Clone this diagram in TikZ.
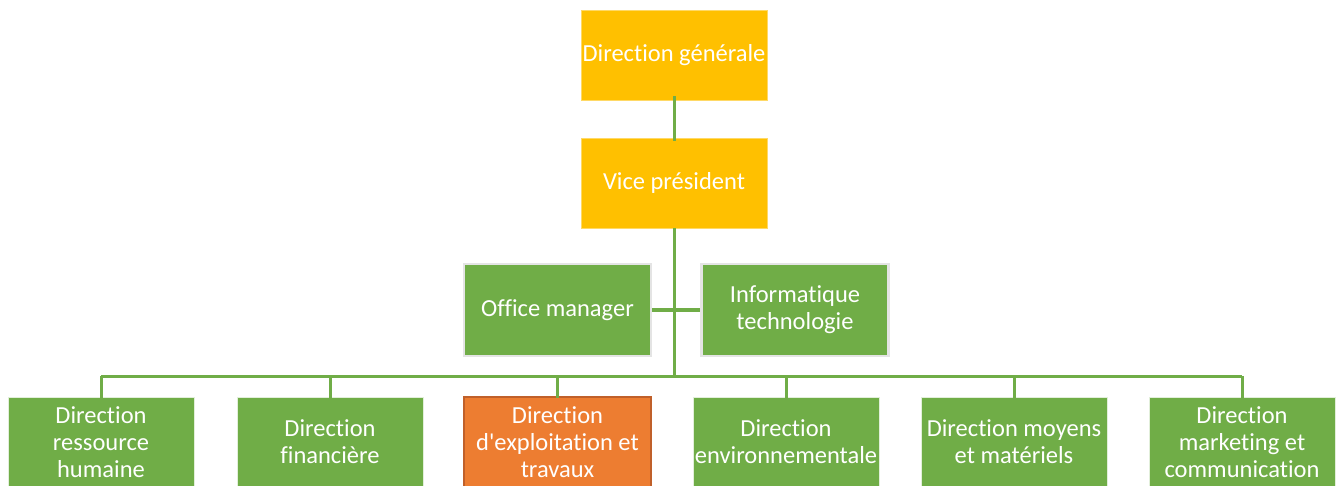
\documentclass[tikz,border=0pt]{standalone}
\usepackage{fontspec}
\setmainfont[Ligatures={NoCommon}]{Carlito}
\definecolor{gold}{HTML}{FFC000}
\definecolor{leaf}{HTML}{70AD47}
\definecolor{tang}{HTML}{ED7D31}
\definecolor{tangdark}{HTML}{C0602A}
\definecolor{pale}{HTML}{E4E4E4}
\begin{document}
\begin{tikzpicture}[x=1pt,y=-1pt]
\tikzset{
  box/.style={minimum width=186pt, minimum height=90pt, inner sep=0pt, align=center,
    text=white, font=\fontsize{24.5}{27}\selectfont},
  topbox/.style={box, fill=gold, draw=gold!60!white, line width=0.6pt},
  sidebox/.style={box, fill=leaf, draw=pale, line width=2.2pt, minimum width=187pt, minimum height=92pt},
  lowbox/.style={box, fill=leaf, draw=white!80!leaf, line width=0.6pt},
  hotbox/.style={box, fill=tang, draw=tangdark, line width=2pt},
  link/.style={draw=leaf, line width=3pt}
}
\useasboundingbox (0,0) rectangle (1341,486);
\clip (0,0) rectangle (1341,486);
\node[topbox] (dg) at (674,55) {Direction générale};
\node[topbox] (vp) at (674,183) {Vice président};
\node[sidebox] (om) at (557.5,310) {Office manager};
\node[sidebox] (it) at (795,310) {Informatique\\technologie};
\node[lowbox] (b1) at (101,442) {Direction\\ressource\\humaine};
\node[lowbox] (b2) at (330,442) {Direction\\financière};
\node[hotbox, minimum width=187pt] (b3) at (557.5,442) {Direction\\d\textquotesingle exploitation et\\travaux};
\node[lowbox] (b4) at (786,442) {Direction\\environnementale};
\node[lowbox] (b5) at (1014,442) {Direction moyens\\et matériels};
\node[lowbox] (b6) at (1242,442) {Direction\\marketing et\\communication};
\coordinate (bus) at (674,376);
\draw[link] ([yshift=4pt]dg.south) -- ([yshift=-3pt]vp.north);
\draw[link] (vp.south) -- (bus);
\draw[link] (om.east) -- (it.west);
\draw[link] (b1.north |- bus) -- (b6.north |- bus);
\foreach \b in {b1,b2,b3,b4,b5,b6} {
  \draw[link] (\b.north |- bus) -- ([yshift=-1.5pt]\b.north);
}
\end{tikzpicture}
\end{document}
